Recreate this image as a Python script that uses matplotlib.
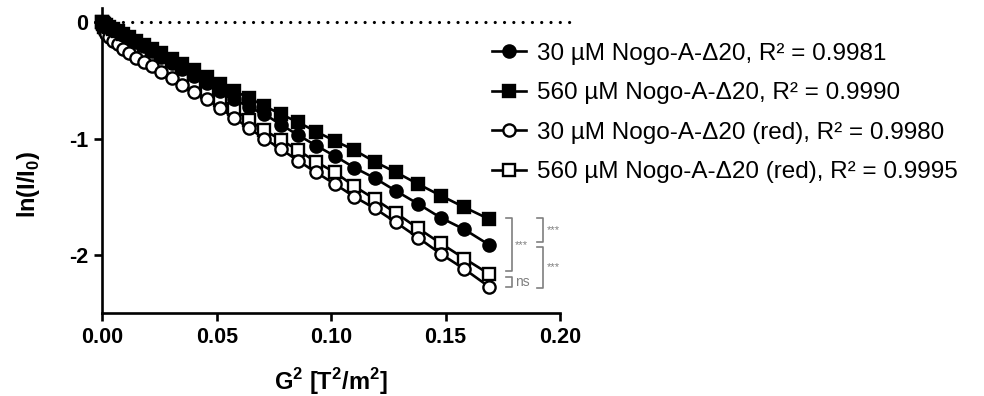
import matplotlib
matplotlib.use("Agg")
import matplotlib.pyplot as plt

plt.rcParams['font.family'] = ['Liberation Sans', 'DejaVu Sans']
plt.rcParams['mathtext.fontset'] = 'custom'
plt.rcParams['mathtext.rm'] = 'Liberation Sans'
plt.rcParams['mathtext.bf'] = 'Liberation Sans:bold'

# ---- data ----
g2 = [0.0000, 0.00025, 0.00084, 0.00178, 0.00307, 0.00470, 0.00668, 0.00900,
      0.01168, 0.01470, 0.01806, 0.02178, 0.02584, 0.03025, 0.03500, 0.04010,
      0.04555, 0.05134, 0.05749, 0.06397, 0.07081, 0.07799, 0.08552, 0.09340,
      0.10162, 0.11019, 0.11911, 0.12837, 0.13798, 0.14794, 0.15825, 0.16890]

y_30 = [0.00, -0.01, -0.02, -0.03, -0.04, -0.06, -0.08, -0.11,
        -0.14, -0.17, -0.21, -0.25, -0.30, -0.35, -0.40, -0.46,
        -0.52, -0.59, -0.66, -0.73, -0.79, -0.88, -0.97, -1.06,
        -1.15, -1.25, -1.34, -1.45, -1.56, -1.68, -1.78, -1.91]

y_560 = [0.00, -0.01, -0.02, -0.03, -0.04, -0.06, -0.08, -0.10,
         -0.13, -0.16, -0.20, -0.23, -0.27, -0.32, -0.36, -0.41,
         -0.47, -0.53, -0.59, -0.65, -0.72, -0.79, -0.86, -0.94,
         -1.02, -1.10, -1.20, -1.29, -1.39, -1.49, -1.59, -1.69]

y_30_red = [0.00, -0.04, -0.07, -0.10, -0.13, -0.16, -0.19, -0.23,
            -0.27, -0.31, -0.34, -0.38, -0.43, -0.48, -0.54, -0.60,
            -0.66, -0.74, -0.82, -0.91, -1.00, -1.09, -1.19, -1.29,
            -1.39, -1.50, -1.60, -1.72, -1.85, -1.99, -2.12, -2.27]

y_560_red = [0.00, -0.02, -0.04, -0.06, -0.08, -0.10, -0.13, -0.16,
             -0.19, -0.23, -0.27, -0.31, -0.36, -0.41, -0.47, -0.53,
             -0.60, -0.67, -0.75, -0.84, -0.93, -1.01, -1.10, -1.20,
             -1.29, -1.41, -1.52, -1.64, -1.77, -1.90, -2.03, -2.16]

labels = ["30 µM Nogo-A-Δ20, R² = 0.9981",
          "560 µM Nogo-A-Δ20, R² = 0.9990",
          "30 µM Nogo-A-Δ20 (red), R² = 0.9980",
          "560 µM Nogo-A-Δ20 (red), R² = 0.9995"]

x_ticks = [0.00, 0.05, 0.10, 0.15, 0.20]
x_ticklabels = ["0.00", "0.05", "0.10", "0.15", "0.20"]
y_ticks = [0, -1, -2]
y_ticklabels = ["0", "-1", "-2"]

# ---- figure ----
W, H = 984, 396
fig = plt.figure(figsize=(W / 100, H / 100), dpi=100)
ax_l, ax_r, ax_t, ax_b = 102.3, 560.0, 8.0, 313.4
ax = fig.add_axes([ax_l / W, 1 - ax_b / H, (ax_r - ax_l) / W, (ax_b - ax_t) / H])

lw = 1.9
ms = 8.8
styles = [
    dict(marker='o', mfc='black', z=5),
    dict(marker='s', mfc='black', z=6),
    dict(marker='o', mfc='white', z=4),
    dict(marker='s', mfc='white', z=3),
]
series = [y_30, y_560, y_30_red, y_560_red]
handles = []
for ys, st, lab in zip(series, styles, labels):
    h, = ax.plot(g2, ys, color='black', lw=lw, marker=st['marker'],
                 mfc=st['mfc'], mec='black', mew=1.7, ms=ms,
                 zorder=st['z'], clip_on=False, label=lab)
    handles.append(h)

# dotted line at y = 0
ax.plot([-0.003, 0.207], [0, 0], color='black', lw=2.3,
        linestyle=(0, (0.01, 2.9)), dash_capstyle='round', zorder=2, clip_on=False)

ax.set_xlim(0, 0.20)
ax.set_ylim(-2.5, 0.12)
ax.set_xticks(x_ticks)
ax.set_xticklabels(x_ticklabels)
ax.set_yticks(y_ticks)
ax.set_yticklabels(y_ticklabels)

for s in ['top', 'right']:
    ax.spines[s].set_visible(False)
for s in ['left', 'bottom']:
    ax.spines[s].set_linewidth(1.9)
ax.tick_params(axis='both', which='major', length=6, width=1.9, direction='out',
               labelsize=15.5, pad=4)
for t in ax.get_xticklabels() + ax.get_yticklabels():
    t.set_fontweight('bold')

fig.text(28 / W, 1 - 184 / H, "ln(I/I$_\\mathbf{0}$)", rotation=90, ha='center', va='center',
         fontsize=17, fontweight='bold')
fig.text(331 / W, 1 - 382 / H, "G$^\\mathbf{2}$ [T$^\\mathbf{2}$/m$^\\mathbf{2}$]", ha='center', va='center',
         fontsize=17, fontweight='bold')

leg = fig.legend(handles=handles, loc='upper left',
                 bbox_to_anchor=(491.7 / W, 1 - 42.5 / H), frameon=False,
                 fontsize=17.5, handlelength=1.4, handletextpad=0.45,
                 labelspacing=0.72, borderpad=0, borderaxespad=0)

# ---- significance brackets ----
gray = '#7f7f7f'
def bracket(x, y1, y2, text, fs, dx=0.0025):
    ax.plot([x - dx, x, x, x - dx], [y1, y1, y2, y2], color=gray, lw=1.2,
            clip_on=False, zorder=1)
    ax.text(x + 0.0015, (y1 + y2) / 2, text, color=gray, fontsize=fs,
            ha='left', va='center', clip_on=False)

end = {k: v[-1] for k, v in zip(['30', '560', '30r', '560r'], series)}
bracket(0.1789, end['560'] + 0.005, end['560r'] + 0.02, "***", 8)
bracket(0.1789, end['560r'] - 0.03, end['30r'], "ns", 10)
bracket(0.1926, end['560'] + 0.01, end['30'] + 0.02, "***", 8)
bracket(0.1926, end['30'] - 0.02, end['30r'] - 0.01, "***", 8)

fig.savefig("out.png", dpi=100)
